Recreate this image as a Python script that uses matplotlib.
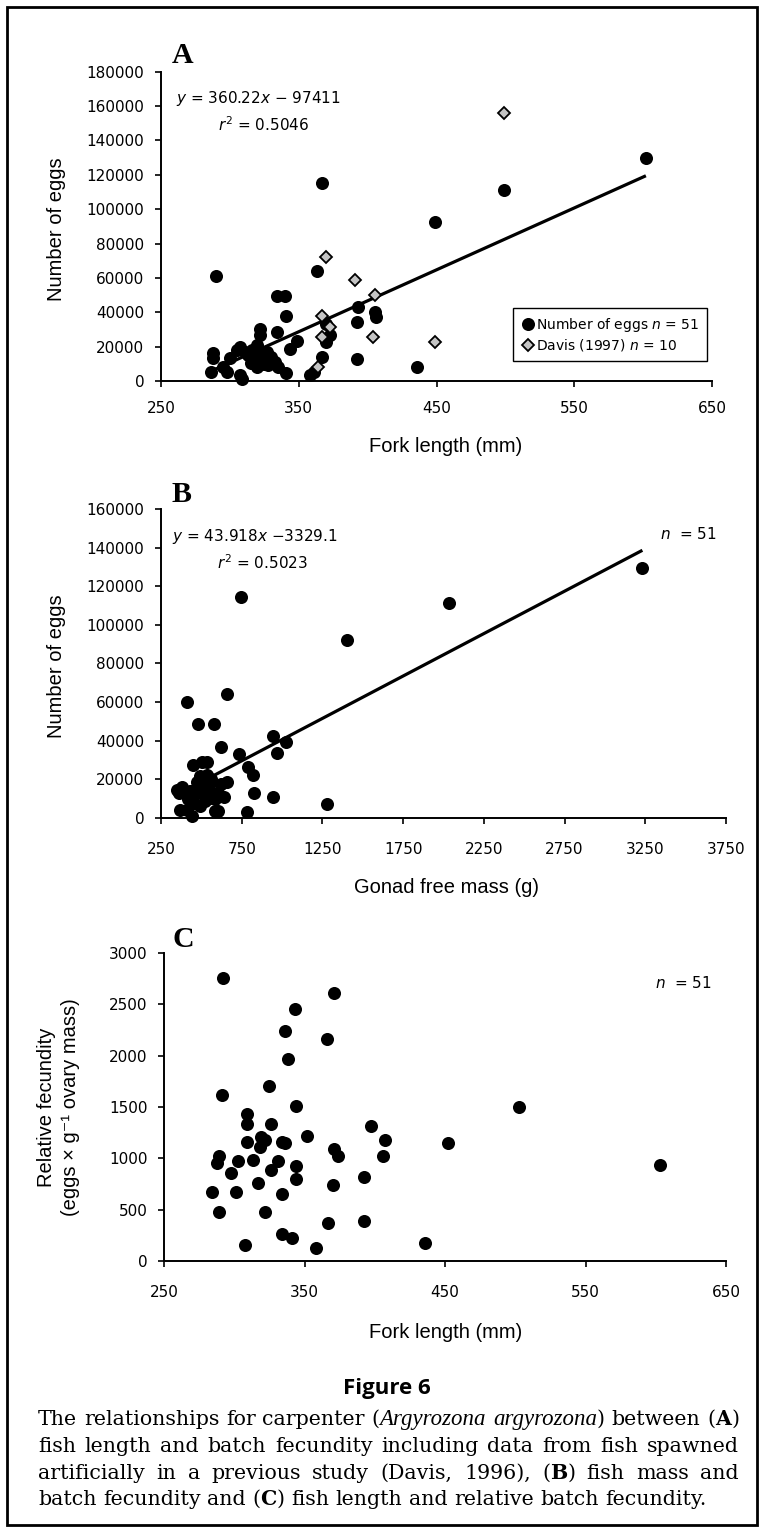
import matplotlib
matplotlib.use('Agg')
import matplotlib.pyplot as plt
from matplotlib.lines import Line2D
from matplotlib.patches import Rectangle
from matplotlib.font_manager import FontProperties

W, H = 762, 1530

# ---------------- data ----------------
# Panel A: fork length (mm) vs number of eggs
a_len = [367, 449, 290, 363, 334, 340, 341, 393, 405, 406,
         392, 322, 322, 334, 349, 370, 373, 370, 344, 307,
         288, 288, 367, 392, 436, 361, 358, 341, 307, 286,
         295, 298, 300, 305, 499, 602, 311, 313, 316, 320,
         322, 327, 330, 333, 328, 335, 320, 315, 309, 325, 316]
a_eggs = [115500, 92300, 61000, 64300, 49200, 49200, 37600, 42800, 39900, 37000,
          34400, 30000, 27000, 28800, 23000, 33000, 27000, 22500, 18500, 19900,
          16100, 13200, 14100, 12800, 8300, 5400, 3500, 4500, 3500, 5400,
          8300, 5400, 13200, 18000, 111300, 130000, 16800, 14900, 18000, 20900,
          14900, 16800, 14000, 11200, 9300, 8300, 8300, 10300, 1200, 10000, 12000]
davis_len = [499, 370, 391, 405, 367, 373, 367, 404, 449, 364]
davis_eggs = [155800, 72200, 58600, 50300, 37700, 31500, 25400, 25400, 22800, 8300]
a_fit = (360.22, -97411)

# Panel B: gonad free mass (g) vs number of eggs
b_mass = [747, 1400, 2035, 3232, 409, 657, 477, 578, 946, 1022,
          622, 971, 735, 791, 822, 946, 826, 1277, 781, 450,
          502, 533, 622, 661, 533, 347, 378, 368, 409, 440,
          584, 605, 471, 502, 554, 481, 523, 564, 585, 360,
          420, 455, 490, 515, 545, 560, 600, 640, 490, 430, 520]
b_eggs = [114600, 92200, 111200, 129700, 60250, 64000, 48900, 48900, 42500, 39500,
          36600, 33800, 33000, 26600, 22300, 11000, 13100, 7250, 2950, 27450,
          29200, 29200, 17600, 18800, 22300, 14500, 16200, 4100, 4100, 1000,
          3800, 3800, 18800, 16200, 18000, 13600, 12800, 10200, 9700, 13000,
          10000, 8000, 6000, 12000, 15000, 20000, 13000, 11000, 22000, 14000, 9000]
b_fit = (43.918, -3329.1)

# Panel C: fork length (mm) vs relative fecundity
c_len = [292, 371, 343, 336, 366, 338, 325, 291, 344, 309,
         309, 326, 397, 352, 319, 322, 407, 452, 309, 334,
         503, 603, 289, 288, 303, 313, 331, 344, 371, 374,
         406, 298, 326, 317, 284, 301, 334, 344, 370, 392,
         289, 322, 367, 392, 334, 341, 308, 358, 436, 318, 336]
c_rel = [2755, 2612, 2453, 2239, 2167, 1972, 1709, 1621, 1514, 1430,
         1338, 1338, 1319, 1221, 1211, 1179, 1179, 1150, 1163, 1163,
         1498, 939, 1027, 955, 971, 988, 971, 922, 1090, 1027,
         1027, 854, 890, 760, 668, 668, 652, 799, 743, 815,
         479, 479, 372, 391, 261, 228, 156, 124, 176, 1110, 1150]

a_xticks = [250, 350, 450, 550, 650]
a_yticks = [0, 20000, 40000, 60000, 80000, 100000, 120000, 140000, 160000, 180000]
b_xticks = [250, 750, 1250, 1750, 2250, 2750, 3250, 3750]
b_yticks = [0, 20000, 40000, 60000, 80000, 100000, 120000, 140000, 160000]
c_xticks = [250, 350, 450, 550, 650]
c_yticks = [0, 500, 1000, 1500, 2000, 2500, 3000]

# ---------------- figure ----------------
plt.rcParams['mathtext.fontset'] = 'dejavusans'
fig = plt.figure(figsize=(W / 100, H / 100), dpi=100)

TICKFONT = dict(family='DejaVu Sans', size=11)
LABFONT = ['Liberation Sans', 'DejaVu Sans']


def fx(x):
    return x / W


def fy(y):
    return 1 - y / H


def add_ax(l, r, t, b):
    return fig.add_axes([l / W, 1 - b / H, (r - l) / W, (b - t) / H])


def style(ax, xt, yt, xpad):
    for s in ['top', 'right']:
        ax.spines[s].set_visible(False)
    for s in ['left', 'bottom']:
        ax.spines[s].set_linewidth(1.4)
        ax.spines[s].set_color('black')
    ax.set_xticks(xt)
    ax.set_yticks(yt)
    ax.set_xlim(xt[0], xt[-1])
    ax.set_ylim(yt[0], yt[-1])
    ax.tick_params(direction='out', length=4, width=1.2, color='black')
    ax.tick_params(axis='x', pad=xpad)
    ax.tick_params(axis='y', pad=8)
    for lab in ax.get_xticklabels() + ax.get_yticklabels():
        lab.set_fontfamily(TICKFONT['family'])
        lab.set_fontsize(TICKFONT['size'])
    ax.patch.set_alpha(0)


def dots(ax, x, y):
    ax.plot(x, y, 'o', ms=9.4, color='black', mec='none', clip_on=False, zorder=3)


def fitline(ax, x, fit):
    xs = [min(x), max(x)]
    ax.plot(xs, [fit[0] * v + fit[1] for v in xs], color='black', lw=2.3, zorder=4,
            solid_capstyle='butt')


# ---- Panel A ----
axA = add_ax(161, 712, 71.7, 381)
style(axA, a_xticks, a_yticks, 10.5)
dots(axA, a_len, a_eggs)
axA.plot(davis_len, davis_eggs, 'D', ms=6.3, mfc='#c4c4c4', mec='black', mew=1.3,
         zorder=5, clip_on=False)
fitline(axA, a_len, a_fit)
handles = [Line2D([], [], marker='o', ls='none', color='black', mec='none', ms=9.4),
           Line2D([], [], marker='D', ls='none', mfc='#c4c4c4', mec='black', mew=1.3, ms=6.3)]
leg = axA.legend(handles, [r'Number of eggs $\mathit{n}$ = 51', r'Davis (1997) $\mathit{n}$ = 10'],
                 loc='upper left', bbox_to_anchor=(0.639, 0.236), frameon=True,
                 fancybox=False, edgecolor='black', framealpha=1, borderpad=0.55,
                 handletextpad=0.1, handlelength=1.0, labelspacing=0.25,
                 prop=dict(family='DejaVu Sans', size=10), borderaxespad=0)
leg.get_frame().set_linewidth(1.0)

# ---- Panel B ----
axB = add_ax(161, 726, 509, 818)
style(axB, b_xticks, b_yticks, 13.5)
dots(axB, b_mass, b_eggs)
fitline(axB, b_mass, b_fit)

# ---- Panel C ----
axC = add_ax(164, 726, 953, 1261)
style(axC, c_xticks, c_yticks, 13.5)
dots(axC, c_len, c_rel)

# ---- panel letters ----
for letter, (x, y) in zip('ABC', [(172, 63), (172, 502), (173, 947)]):
    fig.text(fx(x), fy(y), letter, family='Liberation Serif', weight='bold', size=21.5,
             ha='left', va='baseline')

# ---- equations & n ----
EQ = dict(family='DejaVu Sans', size=11, va='center', ha='left')
fig.text(fx(176), fy(99), r'$\mathit{y}$ = 360.22$\mathit{x}$ − 97411', **EQ)
fig.text(fx(218), fy(125), r'$\mathit{r}^2$ = 0.5046', **EQ)
fig.text(fx(172), fy(537), r'$\mathit{y}$ = 43.918$\mathit{x}$ −3329.1', **EQ)
fig.text(fx(217), fy(563), r'$\mathit{r}^2$ = 0.5023', **EQ)
NT = dict(family='DejaVu Sans', size=11, va='center', ha='right')
fig.text(fx(717), fy(534), r'$\mathit{n}$  = 51', **NT)
fig.text(fx(712), fy(983), r'$\mathit{n}$  = 51', **NT)

# ---- axis labels ----
LB = dict(family=LABFONT, size=14.5, ha='center', va='center')
fig.text(fx(446), fy(447), 'Fork length (mm)', **LB)
fig.text(fx(446), fy(887), 'Gonad free mass (g)', **LB)
fig.text(fx(446), fy(1332), 'Fork length (mm)', **LB)
fig.text(fx(56), fy(229), 'Number of eggs', rotation=90, **LB)
fig.text(fx(56), fy(666), 'Number of eggs', rotation=90, **LB)
fig.text(fx(47), fy(1107), 'Relative fecundity', rotation=90, **LB)
fig.text(fx(70), fy(1107), '(eggs × g⁻¹ ovary mass)', rotation=90, **LB)

# ---- caption ----
fig.text(fx(387), fy(1394), 'Figure 6', family='Open Sans', weight='bold', size=16,
         ha='center', va='baseline')

cap_lines = [
    [[('The', 'n')], [('relationships', 'n')], [('for', 'n')], [('carpenter', 'n')],
     [('(', 'n'), ('Argyrozona', 'i')], [('argyrozona', 'i'), (')', 'n')], [('between', 'n')],
     [('(', 'n'), ('A', 'b'), (')', 'n')]],
    [[(w, 'n')] for w in 'fish length and batch fecundity including data from fish spawned'.split()],
    [[(w, 'n')] for w in 'artificially in a previous study (Davis, 1996),'.split()] +
    [[('(', 'n'), ('B', 'b'), (')', 'n')]] +
    [[(w, 'n')] for w in 'fish mass and'.split()],
    [[(w, 'n')] for w in 'batch fecundity and'.split()] +
    [[('(', 'n'), ('C', 'b'), (')', 'n')]] +
    [[(w, 'n')] for w in 'fish length and relative batch fecundity.'.split()],
]
cap_left, cap_right = 38, 739
baselines = [1425, 1452, 1479, 1505]


def fp(style_code, size):
    if style_code == 'i':
        return FontProperties(family='Liberation Serif', size=size * 1.12, style='italic')
    return FontProperties(family='DejaVu Serif', size=size,
                          weight='bold' if style_code == 'b' else 'normal')


renderer = fig.canvas.get_renderer()


def seg_width(s, st, size):
    t = fig.text(0, 0, s, fontproperties=fp(st, size))
    w = t.get_window_extent(renderer).width
    t.remove()
    return w


def word_width(word, size):
    return sum(seg_width(s, st, size) for s, st in word)


def natural(line, size):
    sp = seg_width('a a', 'n', size) - seg_width('aa', 'n', size)
    return sum(word_width(w, size) for w in line) + sp * (len(line) - 1)


base = 10.0
size_last = base * (727 - cap_left) / natural(cap_lines[3], base)
size_fit = base * (cap_right - cap_left - 4) / max(natural(l, base) for l in cap_lines[:3])
cap_size = min(size_last, size_fit)

for li, (line, yb) in enumerate(zip(cap_lines, baselines)):
    widths = [word_width(w, cap_size) for w in line]
    if li < 3:
        gap = (cap_right - cap_left - sum(widths)) / (len(line) - 1)
    else:
        gap = seg_width('a a', 'n', cap_size) - seg_width('aa', 'n', cap_size)
    x = cap_left
    for word, ww in zip(line, widths):
        xx = x
        for s, st in word:
            fig.text(fx(xx), fy(yb), s, fontproperties=fp(st, cap_size), ha='left', va='baseline')
            xx += seg_width(s, st, cap_size)
        x += ww + gap

# ---- border ----
fig.patches.append(Rectangle((fx(7), fy(1525)), (757 - 7) / W, (1525 - 7) / H,
                             transform=fig.transFigure, fill=False, lw=2.0, ec='black'))

fig.savefig('out.png', dpi=100)
